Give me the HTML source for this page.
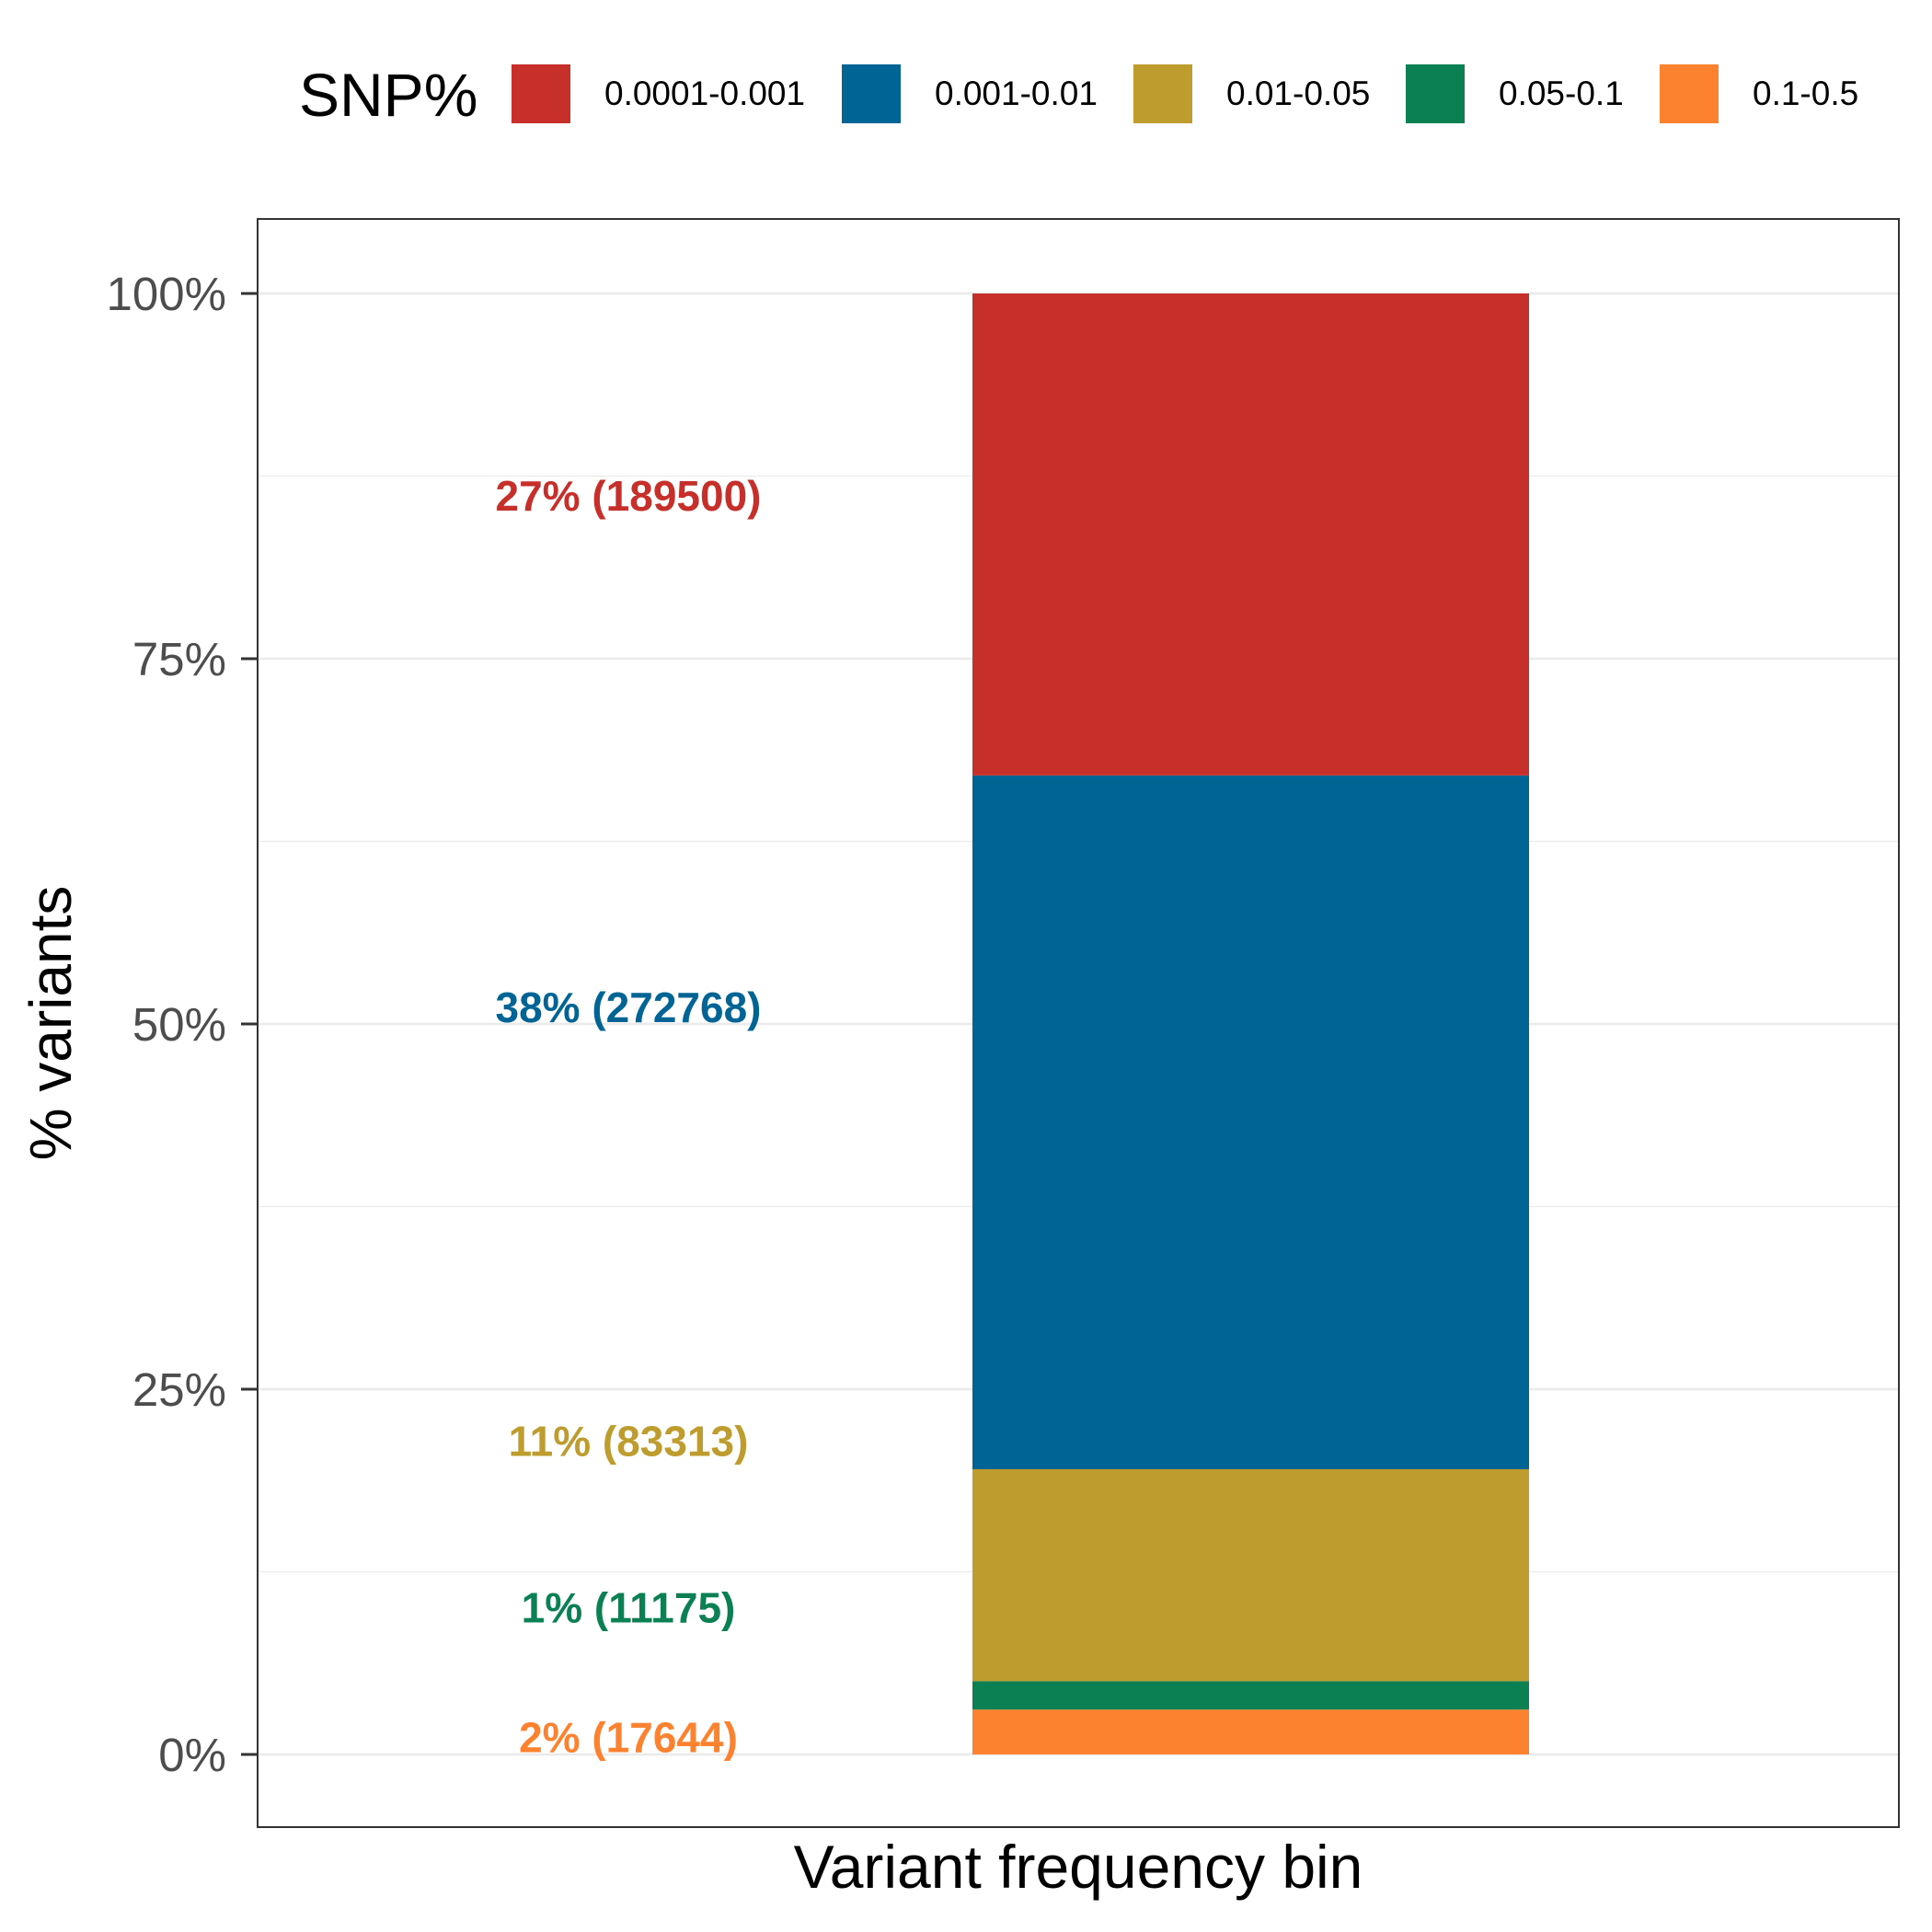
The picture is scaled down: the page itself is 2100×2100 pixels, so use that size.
<!DOCTYPE html>
<html><head><meta charset="utf-8"><style>body{margin:0;background:#fff}svg{display:block}text{font-family:"Liberation Sans",Arial,sans-serif}</style></head>
<body>
<svg id="chart" width="2100" height="2100" viewBox="0 0 2100 2100">
<rect width="2100" height="2100" fill="#fff"/>
<g id="grid"></g>
<g id="bars"></g>
<g id="labels"></g>
<rect x="280" y="238" width="1784" height="1748" fill="none" stroke="#333" stroke-width="2"/>
<g id="yaxis"></g>
<text x="60" y="1112" font-size="64" text-anchor="middle" transform="rotate(-90 60 1112)" dominant-baseline="middle">% variants</text>
<text x="1172" y="2052" font-size="66" text-anchor="middle">Variant frequency bin</text>
<g id="legend">
<text x="325" y="126" font-size="66">SNP%</text>
</g>
</svg>
<script>
const categories = ["0.1-0.5","0.05-0.1","0.01-0.05","0.001-0.01","0.0001-0.001"];
const counts = [17644, 11175, 83313, 272768, 189500];
const labelTexts = ["2% (17644)","1% (11175)","11% (83313)","38% (272768)","27% (189500)"];
const labelPos = [0.93, 9.8, 21.2, 50.9, 85.9];
const colors = ["#FC8230","#0A8053","#BE9C2E","#006494","#C7302A"];
const legendOrder = [4,3,2,1,0];
const yTicks = [0,25,50,75,100];
const yMinor = [12.5,37.5,62.5,87.5];

const NS="http://www.w3.org/2000/svg";
function y(p){return 1907 - p*(1907-319)/100;}
function mk(tag,attrs,parent){const e=document.createElementNS(NS,tag);for(const k in attrs)e.setAttribute(k,attrs[k]);parent.appendChild(e);return e;}
const grid=document.getElementById('grid');
yMinor.forEach(v=>{const l=mk('line',{x1:280,x2:2064,y1:y(v),y2:y(v),stroke:'#ebebeb','stroke-width':1.3},grid);

});
yTicks.forEach(v=>{const l=mk('line',{x1:280,x2:2064,y1:y(v),y2:y(v),stroke:'#ebebeb','stroke-width':2.7},grid);

});
const total=counts.reduce((a,b)=>a+b,0);
let cum=0;const bars=document.getElementById('bars');
counts.forEach((c,i)=>{const p=c/total*100;const r=mk('rect',{x:1057,width:605,y:y(cum+p),height:y(cum)-y(cum+p),fill:colors[i]},bars);

cum+=p;});
const labels=document.getElementById('labels');
labelTexts.forEach((t,i)=>{const e=mk('text',{x:683,y:y(labelPos[i]),'font-size':46,'font-weight':'bold','text-anchor':'middle','dominant-baseline':'middle',fill:colors[i]},labels);e.textContent=t;

});
const ya=document.getElementById('yaxis');
yTicks.forEach(v=>{const t=mk('line',{x1:262,x2:280,y1:y(v),y2:y(v),stroke:'#333','stroke-width':3},ya);


const e=mk('text',{x:246,y:y(v)+18,'font-size':51,'text-anchor':'end',fill:'#4d4d4d'},ya);e.textContent=v+'%';

});
const lg=document.getElementById('legend');
const keyX=[556,915,1232,1528,1804];
legendOrder.forEach((idx,j)=>{const r=mk('rect',{x:keyX[j],y:70,width:64,height:64,fill:colors[idx]},lg);


const e=mk('text',{x:keyX[j]+101,y:104,'font-size':37,'dominant-baseline':'middle'},lg);e.textContent=categories[idx];

});
</script>
</body></html>
